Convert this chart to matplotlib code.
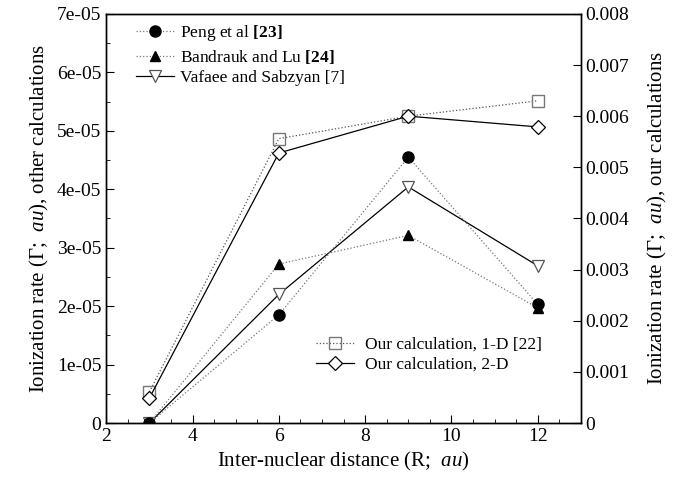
import numpy as np
import matplotlib.pyplot as plt
from matplotlib.ticker import MultipleLocator, FuncFormatter

plt.rcParams['font.family'] = ['Liberation Serif', 'DejaVu Serif']
plt.rcParams['mathtext.fontset'] = 'custom'
plt.rcParams['mathtext.rm'] = 'Liberation Serif'
plt.rcParams['mathtext.it'] = 'Liberation Serif:italic'
plt.rcParams['mathtext.bf'] = 'Liberation Serif:bold'

R = [3, 6, 9, 12]

# other calculations (left axis)
peng = [0.0, 1.85e-05, 4.55e-05, 2.03e-05]
bandrauk = [0.0, 2.72e-05, 3.21e-05, 1.97e-05]
vafaee = [0.0, 2.20e-05, 4.04e-05, 2.69e-05]

# our calculations (right axis)
our_1d = [0.00061, 0.00556, 0.0060, 0.0063]
our_2d = [0.00049, 0.00528, 0.0060, 0.00579]

fig = plt.figure(figsize=(6.77, 4.78), dpi=100)
ax = fig.add_axes([0.157, 0.115, 0.701, 0.856])
ax2 = ax.twinx()

l3, = ax.plot(R, vafaee, '-', color='black', lw=0.9, marker='v', ms=9,
              mfc='white', mec='#555555', mew=0.9, label='Vafaee and Sabzyan [7]',
              zorder=2)
l2, = ax.plot(R, bandrauk, ':', color='#777777', lw=0.9, marker='^', ms=7,
              mfc='black', mec='black', label=r'Bandrauk and Lu $\mathbf{[24]}$',
              zorder=3)
l1, = ax.plot(R, peng, ':', color='#777777', lw=0.9, marker='o', ms=8,
              mfc='black', mec='black', label=r'Peng et al $\mathbf{[23]}$',
              zorder=4)

l4, = ax2.plot(R, our_1d, ':', color='#555555', lw=0.9, marker='s', ms=9,
               mfc='none', mec='#777777', mew=1.0, label='Our calculation, 1-D [22]')
l5, = ax2.plot(R, our_2d, '-', color='black', lw=0.9, marker='D', ms=7,
               mfc='white', mec='black', mew=0.9, label='Our calculation, 2-D')

ax.set_xlim(2, 13)
ax.set_ylim(0, 7e-05)
ax2.set_ylim(0, 0.008)

ax.xaxis.set_major_locator(MultipleLocator(2))
ax.xaxis.set_minor_locator(MultipleLocator(0.5))
ax.yaxis.set_major_locator(MultipleLocator(1e-05))
ax.yaxis.set_minor_locator(MultipleLocator(0.5e-05))
ax2.yaxis.set_major_locator(MultipleLocator(0.001))


def sci_fmt(v, pos):
    if abs(v) < 1e-12:
        return '0'
    return '%de-05' % round(v / 1e-05)


def dec_fmt(v, pos):
    if abs(v) < 1e-12:
        return '0'
    return '%.3f' % v


ax.yaxis.set_major_formatter(FuncFormatter(sci_fmt))
ax2.yaxis.set_major_formatter(FuncFormatter(dec_fmt))

for a in (ax, ax2):
    a.tick_params(which='both', direction='in', labelsize=14)
    a.tick_params(which='major', length=6)
    a.tick_params(which='minor', length=3)
    for s in a.spines.values():
        s.set_linewidth(1.0)

ax.set_xlabel(r'Inter-nuclear distance (R;  $\it{au}$)', fontsize=15)
ax.set_ylabel(r'Ionization rate (Γ;  $\it{au}$), other calculations', fontsize=15)
ax2.set_ylabel(r'Ionization rate (Γ;  $\it{au}$), our calculations', fontsize=15,
               rotation=90, labelpad=12)

ax.legend(handles=[l1, l2, l3], loc='upper left', bbox_to_anchor=(0.03, 1.015),
          frameon=False, fontsize=12.5, handlelength=2.2, handletextpad=0.3,
          labelspacing=0.25)
ax2.legend(handles=[l4, l5], loc='lower right', bbox_to_anchor=(0.95, 0.085),
           frameon=False, fontsize=12.5, handlelength=2.2, handletextpad=0.6,
           labelspacing=0.2)

fig.savefig('out.png', dpi=100)
